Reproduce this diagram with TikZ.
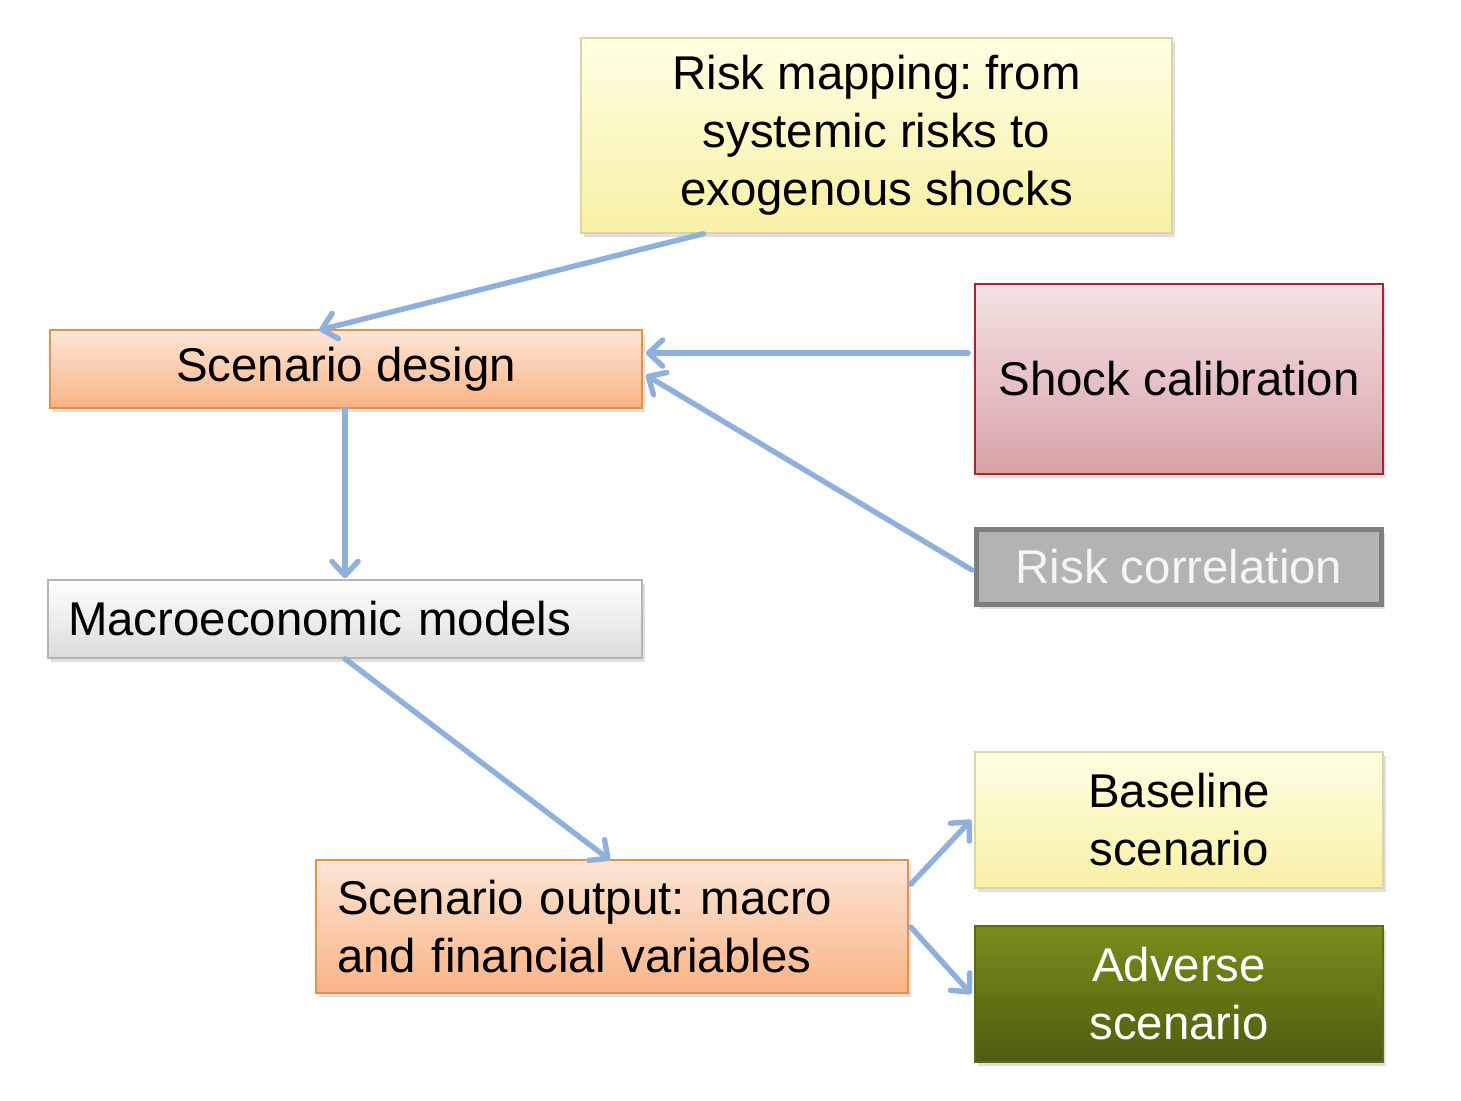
\documentclass[tikz,border=0pt]{standalone}
\usepackage{fontspec}
\setmainfont{Liberation Sans}
\frenchspacing
\usetikzlibrary{arrows.meta,shadows,calc}
\definecolor{arrowblue}{HTML}{8FB0DA}
\definecolor{ylwtop}{HTML}{FFFFE2}
\definecolor{ylwbot}{HTML}{F8F0A6}
\definecolor{ylwline}{HTML}{DCD4A4}
\definecolor{orgtop}{HTML}{FDE6D6}
\definecolor{orgbot}{HTML}{F9B387}
\definecolor{orgline}{HTML}{E3924A}
\definecolor{pnktop}{HTML}{F3E2E2}
\definecolor{pnkbot}{HTML}{D9A2A7}
\definecolor{pnkline}{HTML}{9E2A30}
\definecolor{grfill}{HTML}{B3B3B3}
\definecolor{grline}{HTML}{7F7F7F}
\definecolor{mactop}{HTML}{FEFEFE}
\definecolor{macbot}{HTML}{DCDCDC}
\definecolor{macline}{HTML}{B5B5B5}
\definecolor{olvtop}{HTML}{7B8D1C}
\definecolor{olvbot}{HTML}{4D5D0F}
\definecolor{olvline}{HTML}{5B6B1A}
\begin{document}
\begin{tikzpicture}[x=0.5pt,y=-0.5pt,
  box/.style={rectangle, inner sep=0pt, font=\fontsize{23.7}{29}\selectfont, align=center,
     drop shadow={shadow xshift=1.5pt, shadow yshift=-2pt, opacity=0.25}},
  ylwbox/.style={box, top color=ylwtop, bottom color=ylwbot, draw=ylwline, line width=0.8pt},
  orgbox/.style={box, top color=orgtop, bottom color=orgbot, draw=orgline, line width=0.9pt},
  pnkbox/.style={box, top color=pnktop, bottom color=pnkbot, draw=pnkline, line width=0.9pt},
  grbox/.style={box, fill=grfill, draw=grline, line width=2.5pt, text=white!96!black},
  macbox/.style={box, top color=mactop, bottom color=macbot, draw=macline, line width=0.8pt},
  olvbox/.style={box, top color=olvtop, bottom color=olvbot, draw=olvline, line width=0.8pt, text=white},
  conn/.style={draw=arrowblue, line width=2.7pt, line cap=round,
     -{Straight Barb[length=7pt,width=13pt,round]}}
]
\useasboundingbox (0,0) rectangle (1461,1101);
\fill[white] (0,0) rectangle (1461,1101);

\node[ylwbox, minimum width=295.5pt, minimum height=97.5pt] (risk) at (876.5,135.5)
  {Risk mapping: from\\systemic risks to\\exogenous shocks};
\node[orgbox, minimum width=296pt, minimum height=39pt] (design) at (346,369) {Scenario design};
\node[pnkbox, minimum width=204pt, minimum height=95pt] (shock) at (1179,379) {Shock calibration};
\node[grbox, minimum width=202.5pt, minimum height=37.5pt] (corr) at (1179,567) {Risk correlation};
\node[macbox, minimum width=297pt, minimum height=39pt, text width=277pt, align=left] (macro) at (345,619)
  {Macroeconomic models};
\node[orgbox, minimum width=296pt, minimum height=66.5pt, text width=275pt, align=left] (output) at (612,926.5)
  {Scenario output: macro\\and financial variables};
\node[ylwbox, minimum width=204pt, minimum height=68pt] (base) at (1179,820) {Baseline\\scenario};
\node[olvbox, minimum width=204pt, minimum height=68pt] (adverse) at (1179,994) {Adverse\\scenario};

\draw[conn] ([xshift=61.5pt]risk.south west) -- ([xshift=135pt,yshift=-0.5pt]design.north west);
\draw[conn] ([xshift=-3pt,yshift=-35pt]shock.north west) -- ([xshift=1.5pt,yshift=-12pt]design.north east);
\draw[conn] ([xshift=-1pt,yshift=-1.5pt]corr.west) -- ([xshift=1.5pt,yshift=-23pt]design.north east);
\draw[conn] ([xshift=-0.5pt]design.south) -- ([yshift=0.5pt]macro.north);
\draw[conn] (macro.south) -- ([xshift=-1pt,yshift=-0.5pt]output.north);
\draw[conn] ([xshift=1pt,yshift=-12.5pt]output.north east) -- ([xshift=-1.5pt]base.west);
\draw[conn] ([xshift=1pt,yshift=-34pt]output.north east) -- ([xshift=-1.5pt]adverse.west);
\end{tikzpicture}
\end{document}
